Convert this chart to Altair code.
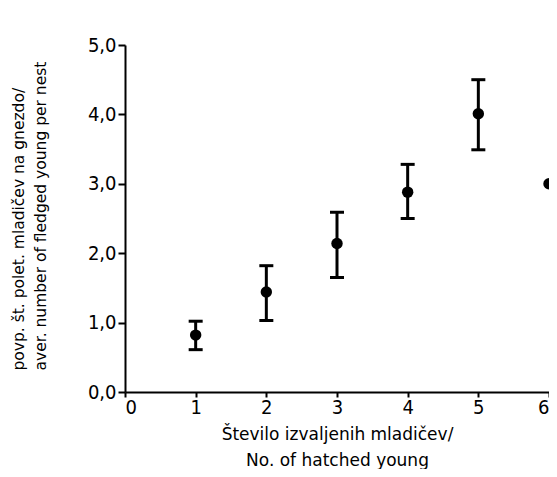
import altair as alt
import pandas as pd

hatched = [1, 2, 3, 4, 5, 6]
mean_fledged = [0.82, 1.44, 2.14, 2.88, 4.01, 3.0]
err_low = [0.61, 1.03, 1.65, 2.50, 3.49, None]
err_high = [1.02, 1.82, 2.59, 3.28, 4.50, None]

y_ticks = [0, 0.5, 1, 1.5, 2, 2.5, 3, 3.5, 4, 4.5, 5]
x_ticks = [0, 1, 2, 3, 4, 5, 6]

df = pd.DataFrame({"x": hatched, "m": mean_fledged, "lo": err_low, "hi": err_high})

LABEL_FONT = "Liberation Sans Narrow, DejaVu Sans Condensed, Liberation Sans, sans-serif"
TITLE_FONT = "DejaVu Sans, Liberation Sans, sans-serif"

xscale = alt.Scale(domain=[0, 6], nice=False)
yscale = alt.Scale(domain=[0, 5], nice=False)

xaxis = alt.Axis(
    values=x_ticks, format="d", grid=False,
    title=["Število izvaljenih mladičev/", "No. of hatched young"],
    titleFont=TITLE_FONT, titleFontSize=17, titleFontWeight="normal", titleColor="black",
    titlePadding=9, titleLineHeight=26,
    labelFont=LABEL_FONT, labelFontSize=20, labelColor="black", labelPadding=0,
    domainColor="black", domainWidth=2, tickColor="black", tickWidth=2, tickSize=5,
)
yaxis = alt.Axis(
    values=y_ticks, grid=False,
    labelExpr="datum.value % 1 == 0 ? replace(format(datum.value, '.1f'), '.', ',') : ''",
    title=["povp. št. polet. mladičev na gnezdo/", "aver. number of fledged young per nest"],
    titleFont=TITLE_FONT, titleFontSize=15.5, titleFontWeight="normal", titleColor="black",
    titleLineHeight=22, titleAngle=270, titleAlign="left", titleBaseline="top",
    titleX=-114, titleY=325,
    labelFont=LABEL_FONT, labelFontSize=20, labelColor="black", labelPadding=2,
    domainColor="black", domainWidth=2, tickColor="black", tickWidth=2, tickSize=7,
)

base = alt.Chart(df)

bars = base.transform_filter("isValid(datum.lo)").mark_rule(color="black", strokeWidth=3).encode(
    x=alt.X("x:Q", scale=xscale, axis=xaxis),
    y=alt.Y("lo:Q", scale=yscale, axis=yaxis),
    y2="hi:Q",
)
cap_lo = base.transform_filter("isValid(datum.lo)").mark_tick(
    color="black", orient="horizontal", size=14, thickness=3, opacity=1
).encode(x=alt.X("x:Q", scale=xscale), y=alt.Y("lo:Q", scale=yscale))
cap_hi = base.transform_filter("isValid(datum.hi)").mark_tick(
    color="black", orient="horizontal", size=14, thickness=3, opacity=1
).encode(x=alt.X("x:Q", scale=xscale), y=alt.Y("hi:Q", scale=yscale))
pts = base.mark_circle(color="black", size=130, opacity=1).encode(
    x=alt.X("x:Q", scale=xscale), y=alt.Y("m:Q", scale=yscale)
)

chart = alt.layer(bars, cap_lo, cap_hi, pts).properties(
    width=424, height=347,
    background="white",
    autosize=alt.AutoSizeParams(type="none"),
    padding={"left": 117, "top": 37, "right": 0, "bottom": 77},
).configure_view(strokeWidth=0, stroke="transparent")

chart.save("out.html", embed_options={"renderer": "svg", "actions": False})
